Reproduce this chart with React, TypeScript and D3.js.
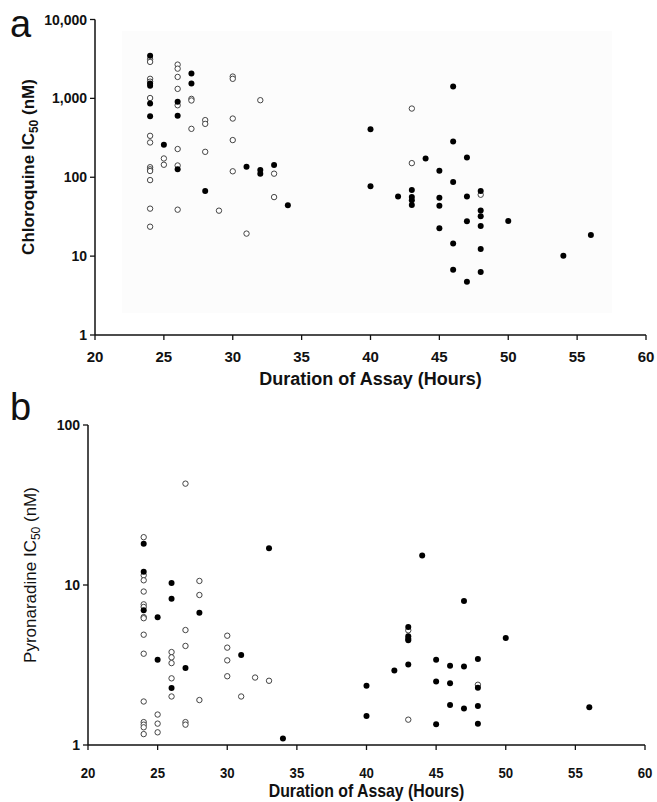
import React, { useEffect, useRef } from 'react';
import * as d3 from 'd3';

// [hours, IC50 nM]
const chloroquineOpen: [number, number][] = [
  [24, 3130], [24, 2900], [24, 1770], [24, 1630], [24, 1010], [24, 335], [24, 276], [24, 134], [24, 126], [24, 120], [24, 92], [24, 40], [24, 23.6],
  [25, 173], [25, 144],
  [26, 2680], [26, 2380], [26, 1870], [26, 1320], [26, 818], [26, 228], [26, 141], [26, 38.8],
  [27, 986], [27, 940], [27, 411],
  [28, 530], [28, 475], [28, 210],
  [29, 37.7],
  [30, 1890], [30, 1770], [30, 555], [30, 296], [30, 119],
  [31, 19.3],
  [32, 948],
  [33, 111], [33, 56],
  [43, 743], [43, 151],
  [48, 60],
];

const chloroquineFilled: [number, number][] = [
  [24, 3480], [24, 1540], [24, 1450], [24, 860], [24, 594],
  [25, 258],
  [26, 904], [26, 600], [26, 126],
  [27, 2060], [27, 1540],
  [28, 67],
  [31, 136],
  [32, 124], [32, 111],
  [33, 143],
  [34, 44],
  [40, 407], [40, 77],
  [42, 57],
  [43, 69], [43, 56], [43, 51], [43, 44.5],
  [44, 173],
  [45, 121], [45, 55], [45, 43.6], [45, 22.5],
  [46, 1410], [46, 284], [46, 87], [46, 14.5], [46, 6.7],
  [47, 178], [47, 57], [47, 27.6], [47, 4.75],
  [48, 67], [48, 38], [48, 32], [48, 24.1], [48, 12.3], [48, 6.3],
  [50, 27.9],
  [54, 10.1],
  [56, 18.5],
];

const pyronaridineOpen: [number, number][] = [
  [24, 19.9], [24, 11.5], [24, 10.7], [24, 9.1], [24, 7.57], [24, 7.29], [24, 6.3], [24, 6.2], [24, 4.89], [24, 3.72], [24, 1.87], [24, 1.39], [24, 1.34], [24, 1.29], [24, 1.17],
  [25, 1.55], [25, 1.36], [25, 1.2],
  [26, 3.81], [26, 3.53], [26, 3.25], [26, 2.61], [26, 2.01],
  [27, 43], [27, 5.23], [27, 4.16], [27, 1.39], [27, 1.34],
  [28, 10.6], [28, 8.66], [28, 1.91],
  [30, 4.82], [30, 4.06], [30, 3.38], [30, 2.69],
  [31, 2.01],
  [32, 2.64],
  [33, 2.52],
  [43, 5.21], [43, 1.44],
  [48, 2.38],
];

const pyronaridineFilled: [number, number][] = [
  [24, 18.1], [24, 12.1], [24, 6.95],
  [25, 6.28], [25, 3.41],
  [26, 10.3], [26, 8.2], [26, 2.27],
  [27, 3.03],
  [28, 6.71],
  [31, 3.65],
  [33, 17.0],
  [34, 1.1],
  [40, 2.35], [40, 1.52],
  [42, 2.92],
  [43, 5.47], [43, 4.78], [43, 4.62], [43, 4.51], [43, 3.18],
  [44, 15.3],
  [45, 3.41], [45, 2.49], [45, 1.35],
  [46, 3.13], [46, 2.43], [46, 1.78],
  [47, 7.94], [47, 3.1], [47, 1.69],
  [48, 3.45], [48, 2.28], [48, 1.75], [48, 1.36],
  [50, 4.66],
  [56, 1.72],
];

const xTicks = [20, 25, 30, 35, 40, 45, 50, 55, 60];
const yTicksA = [1, 10, 100, 1000, 10000];
const yTicksB = [1, 10, 100];

const FONT = "'Liberation Sans', Arial, sans-serif";

const App = () => {
  const svgRef = useRef<SVGSVGElement>(null);

  useEffect(() => {
    const svg = d3.select(svgRef.current);
    svg.selectAll('*').remove();

    const drawPanel = (opts: any) => {
      const { x, y, yTicks, open, filled, letter, letterY, yLabel, yLabelX, yLabelY, yLabelWeight, titleY, tickLabelY, squeeze } = opts;
      const g = svg.append('g');

      if (opts.bg) {
        g.append('rect')
          .attr('x', opts.bg[0]).attr('y', opts.bg[1])
          .attr('width', opts.bg[2]).attr('height', opts.bg[3])
          .attr('fill', '#fcfcfc');
      }

      const [x0, x1] = x.range();
      const [yBottom, yTop] = y.range();

      // axes lines
      g.append('line').attr('x1', x0).attr('x2', x0).attr('y1', yTop).attr('y2', yBottom)
        .attr('stroke', '#111').attr('stroke-width', 1.5);
      g.append('line').attr('x1', x0).attr('x2', x1).attr('y1', yBottom).attr('y2', yBottom)
        .attr('stroke', '#111').attr('stroke-width', 1.5);

      // y ticks
      yTicks.forEach((t: number) => {
        g.append('line').attr('x1', x0 - 5).attr('x2', x0).attr('y1', y(t)).attr('y2', y(t))
          .attr('stroke', '#111').attr('stroke-width', 1.3);
        g.append('text').attr('x', x0 - 8).attr('y', y(t)).attr('dy', '0.36em')
          .attr('text-anchor', 'end').attr('font-family', FONT).attr('font-weight', 'bold')
          .attr('font-size', 14).attr('fill', '#111')
          .text(d3.format(',')(t));
      });

      // x ticks (narrow look in panel b via horizontal squeeze)
      xTicks.forEach(t => {
        g.append('line').attr('x1', x(t)).attr('x2', x(t)).attr('y1', yBottom).attr('y2', yBottom + 5)
          .attr('stroke', '#111').attr('stroke-width', 1.3);
        g.append('text')
          .attr('transform', `translate(${x(t)},${tickLabelY}) scale(${squeeze},1)`)
          .attr('text-anchor', 'middle').attr('font-family', FONT).attr('font-weight', 'bold')
          .attr('font-size', 15).attr('fill', '#111')
          .text(t);
      });

      // x title
      g.append('text')
        .attr('transform', `translate(${(x0 + x1) / 2},${titleY}) scale(${squeeze},1)`)
        .attr('text-anchor', 'middle').attr('font-family', FONT).attr('font-weight', 'bold')
        .attr('font-size', opts.titleSize).attr('fill', '#111')
        .text('Duration of Assay (Hours)');

      // y title
      const yt = g.append('text')
        .attr('transform', `translate(${yLabelX},${yLabelY}) rotate(-90)`)
        .attr('text-anchor', 'middle').attr('font-family', FONT).attr('font-weight', yLabelWeight)
        .attr('font-size', 17).attr('fill', '#111');
      yt.append('tspan').text(`${yLabel} IC`);
      yt.append('tspan').attr('dy', 4).attr('font-size', 12).text('50');
      yt.append('tspan').attr('dy', -4).text(' (nM)');

      // panel letter
      g.append('text').attr('x', 10).attr('y', letterY)
        .attr('font-family', FONT).attr('font-size', 38).attr('fill', '#111')
        .text(letter);

      // points
      g.selectAll('circle.open').data(open).join('circle')
        .attr('class', 'open')
        .attr('cx', (d: any) => x(d[0])).attr('cy', (d: any) => y(d[1]))
        .attr('r', 2.7).attr('fill', 'white').attr('stroke', '#444').attr('stroke-width', 1);
      g.selectAll('circle.filled').data(filled).join('circle')
        .attr('class', 'filled')
        .attr('cx', (d: any) => x(d[0])).attr('cy', (d: any) => y(d[1]))
        .attr('r', 3).attr('fill', '#000');
    };

    drawPanel({
      x: d3.scaleLinear().domain([20, 60]).range([95, 646]),
      y: d3.scaleLog().domain([1, 10000]).range([335, 19.5]),
      yTicks: yTicksA,
      open: chloroquineOpen,
      filled: chloroquineFilled,
      letter: 'a', letterY: 37,
      yLabel: 'Chloroquine', yLabelX: 34, yLabelY: 167, yLabelWeight: 'bold',
      tickLabelY: 362, titleY: 385, titleSize: 18, squeeze: 1,
      bg: [122, 31, 490, 282],
    });

    drawPanel({
      x: d3.scaleLinear().domain([20, 60]).range([88, 645]),
      y: d3.scaleLog().domain([1, 100]).range([745, 425]),
      yTicks: yTicksB,
      open: pyronaridineOpen,
      filled: pyronaridineFilled,
      letter: 'b', letterY: 420,
      yLabel: 'Pyronaradine', yLabelX: 36, yLabelY: 575, yLabelWeight: 'normal',
      tickLabelY: 778, titleY: 797, titleSize: 18, squeeze: 0.88,
    });
  }, []);

  return (
    <svg ref={svgRef} width={657} height={802}
      style={{ position: 'absolute', left: 0, top: 0, display: 'block', background: '#fff' }} />
  );
};

export default App;
